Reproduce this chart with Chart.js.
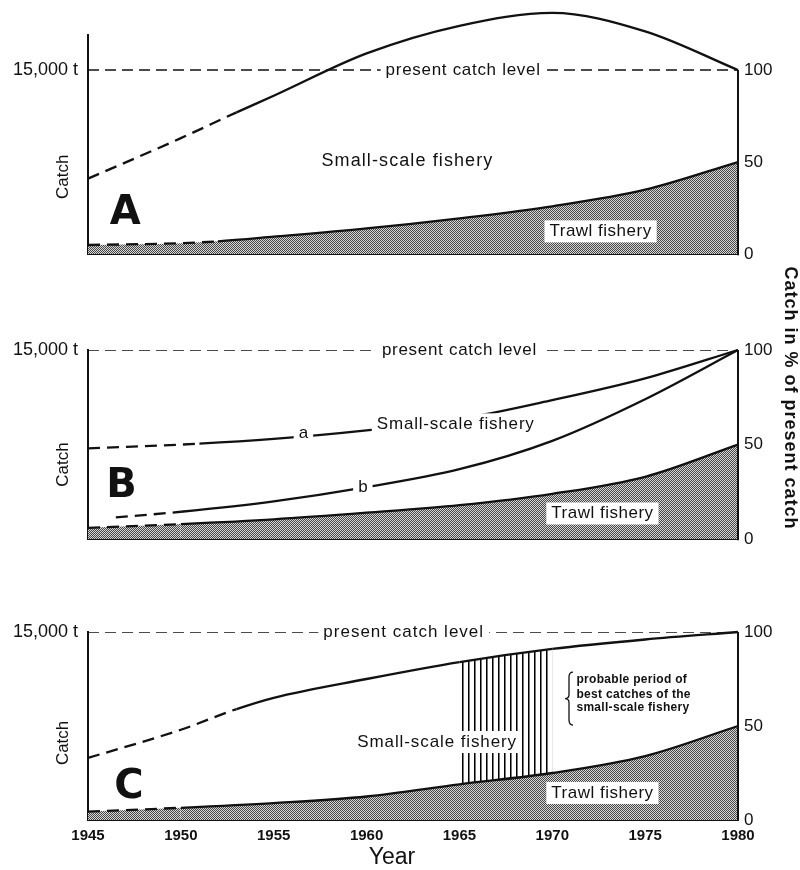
<!DOCTYPE html>
<html>
<head>
<meta charset="utf-8">
<script src="https://cdn.jsdelivr.net/npm/chart.js@4.4.1/dist/chart.umd.min.js"></script>
<style>
  body { margin: 0; background: #fff; }
  #wrap { position: relative; width: 800px; height: 870px; }
  canvas { position: absolute; left: 0; }
</style>
</head>
<body>
<div id="wrap">
  <canvas id="panelA" width="800" height="275" style="top:0"></canvas>
  <canvas id="panelB" width="800" height="305" style="top:255px"></canvas>
  <canvas id="panelC" width="800" height="310" style="top:560px"></canvas>
</div>
<script>
// all catches in % of present catch (100 % = 15,000 t)
const yearTicks = [1945, 1950, 1955, 1960, 1965, 1970, 1975, 1980];
const pctTicks = [0, 50, 100];
const presentYears = [1945, 1980];
const presentLevel = [100, 100];

// panel A
const aSmallYears = [1945, 1950, 1953, 1955, 1960, 1965, 1970, 1975, 1980];
const aSmallCatch = [41, 63, 77, 86, 109, 124, 131, 121, 100];
const aTrawlYears = [1945, 1950, 1952, 1955, 1960, 1965, 1970, 1975, 1980];
const aTrawlCatch = [5, 6, 7, 9.5, 14, 19.5, 26, 35, 50];

// panel B
const bLineAYears = [1945, 1951, 1955, 1960, 1965, 1970, 1975, 1980];
const bLineACatch = [48, 50.5, 53, 57.5, 63.5, 73.5, 85, 100];
const bLineBYears = [1946.5, 1950, 1955, 1960, 1965, 1970, 1975, 1980];
const bLineBCatch = [11.5, 14.5, 20, 27.5, 37, 52, 74, 100];
const bTrawlYears = [1945, 1950, 1955, 1960, 1965, 1970, 1975, 1980];
const bTrawlCatch = [6, 8, 10.5, 14, 18, 24, 33, 50];

// panel C
const cSmallYears = [1945, 1950, 1953, 1955, 1960, 1965, 1970, 1975, 1980];
const cSmallCatch = [33, 48, 59, 65, 75, 84, 91, 96, 100];
const cTrawlYears = [1945, 1950, 1955, 1960, 1965, 1970, 1975, 1980];
const cTrawlCatch = [4.5, 6.5, 9, 12.5, 19, 25, 34, 50];
const bestPeriod = [1965, 1970];

Chart.defaults.font.family = "'Liberation Sans', sans-serif";
Chart.defaults.color = "#111";

const INK = "#111";
const pts = (xs, ys) => xs.map((x, i) => ({ x, y: ys[i] }));

function makePattern(w, h, draw) {
  const c = document.createElement("canvas");
  c.width = w;
  c.height = h;
  const g = c.getContext("2d");
  draw(g);
  return g.createPattern(c, "repeat");
}

// halftone screen of the trawl area
const screen = makePattern(2, 2, (g) => {
  g.fillStyle = "#d6d6d6";
  g.fillRect(0, 0, 2, 2);
  g.fillStyle = "#474747";
  g.fillRect(0, 0, 1, 1);
  g.fillRect(1, 1, 1, 1);
});

// vertical hatching for the best period
const hatch = makePattern(6, 1, (g) => {
  g.fillStyle = "#000";
  g.fillRect(0, 0, 1, 1);
  g.fillStyle = "#777";
  g.fillRect(1, 0, 1, 1);
});

function curve(xs, ys, dashEnd, extra) {
  return Object.assign({
    data: pts(xs, ys),
    yAxisID: "y",
    borderColor: INK,
    borderWidth: 2.3,
    pointRadius: 0,
    cubicInterpolationMode: "monotone",
    fill: false,
    clip: false,
    segment: {
      borderDash: (c) => (c.p1.parsed.x <= dashEnd ? [12, 7] : undefined)
    }
  }, extra || {});
}

function presentLine() {
  return {
    data: pts(presentYears, presentLevel),
    yAxisID: "y",
    borderColor: INK,
    borderWidth: 1.5,
    borderDash: [11, 6],
    pointRadius: 0,
    fill: false
  };
}

function makeScales(max, showYears) {
  return {
    x: {
      type: "linear",
      min: 1945,
      max: 1980,
      grid: { display: false, drawTicks: false },
      border: { display: true, color: INK, width: 2 },
      afterBuildTicks: (s) => { s.ticks = yearTicks.map((v) => ({ value: v })); },
      ticks: {
        display: showYears,
        padding: 7,
        font: { size: 15, weight: "bold" },
        callback: (v) => String(v)
      },
      afterFit: (s) => { s.height = showYears ? 30 : 0; }
    },
    yL: {
      position: "left",
      min: 0,
      max: max,
      grid: { display: false, drawTicks: false },
      border: { display: true, color: INK, width: 2 },
      afterBuildTicks: (s) => { s.ticks = [{ value: 100 }]; },
      ticks: { padding: 10, font: { size: 18 }, callback: () => "15,000 t" },
      afterFit: (s) => { s.width = 88; }
    },
    y: {
      position: "right",
      min: 0,
      max: max,
      grid: { display: false, drawTicks: false },
      border: { display: false },
      afterBuildTicks: (s) => { s.ticks = pctTicks.map((v) => ({ value: v })); },
      ticks: { padding: 6, font: { size: 17 } },
      afterFit: (s) => { s.width = 62; }
    }
  };
}

function brace(ctx, bx, top, bottom) {
  const mid = (top + bottom) / 2;
  ctx.beginPath();
  ctx.moveTo(bx + 4, top);
  ctx.quadraticCurveTo(bx, top, bx, top + 5);
  ctx.lineTo(bx, mid - 4);
  ctx.quadraticCurveTo(bx, mid, bx - 4, mid);
  ctx.quadraticCurveTo(bx, mid, bx, mid + 4);
  ctx.lineTo(bx, bottom - 5);
  ctx.quadraticCurveTo(bx, bottom, bx + 4, bottom);
  ctx.lineWidth = 1.3;
  ctx.strokeStyle = INK;
  ctx.stroke();
}

// text labels placed in data units (or pixels where they sit outside the plot)
function notesPlugin(list, extra) {
  return {
    id: "notes",
    afterDatasetsDraw(chart) {
      const { ctx, scales: { x, y } } = chart;
      ctx.save();
      // the % axis only runs from 0 to 100
      const rx = x.getPixelForValue(1980);
      ctx.strokeStyle = INK;
      ctx.lineWidth = 2;
      ctx.beginPath();
      ctx.moveTo(rx, y.getPixelForValue(0) + 1);
      ctx.lineTo(rx, y.getPixelForValue(100));
      ctx.stroke();

      list.forEach((n) => {
        const px = n.px != null ? n.px : x.getPixelForValue(n.x);
        const py = n.py != null ? n.py : y.getPixelForValue(n.y);
        ctx.save();
        ctx.font = n.font || "17px 'Liberation Sans', sans-serif";
        ctx.letterSpacing = (n.spacing || 0) + "px";
        ctx.textAlign = n.align || "center";
        ctx.textBaseline = "middle";
        ctx.translate(px, py);
        if (n.rotate) ctx.rotate(n.rotate);
        if (n.box) {
          const w = ctx.measureText(n.text).width;
          const left = n.align === "left" ? 0 : -w / 2;
          ctx.fillStyle = "#fff";
          ctx.fillRect(left - 5, -11, w + 10, 22);
        }
        ctx.fillStyle = INK;
        ctx.fillText(n.text, 0, 0);
        ctx.restore();
      });
      if (extra) extra(chart);
      ctx.restore();
    }
  };
}

function build(id, max, showYears, padding, datasets, notes, extra) {
  return new Chart(document.getElementById(id), {
    type: "line",
    data: { datasets: datasets },
    options: {
      responsive: false,
      animation: false,
      events: [],
      layout: { padding: padding },
      plugins: { legend: { display: false }, tooltip: { enabled: false } },
      scales: makeScales(max, showYears)
    },
    plugins: [notesPlugin(notes, extra)]
  });
}

const bigLetter = "bold 40px 'DejaVu Sans', sans-serif";
const catchLabel = (yv) => ({ text: "Catch", px: 63, y: yv, rotate: -Math.PI / 2 });

build("panelA", 119, false, { top: 35, bottom: 18, left: 0, right: 0 }, [
  curve(aTrawlYears, aTrawlCatch, 1952, { fill: "origin", backgroundColor: screen }),
  curve(aSmallYears, aSmallCatch, 1953),
  presentLine()
], [
  { text: "A", x: 1947, y: 22, font: bigLetter },
  catchLabel(42),
  { text: "Small-scale fishery", x: 1962.2, y: 50.5, font: "18px 'Liberation Sans', sans-serif", spacing: 1.1 },
  { text: "Trawl fishery", x: 1972.6, y: 12.4, box: true, spacing: 0.5 },
  { text: "present catch level", x: 1965.2, y: 100, box: true, spacing: 0.7 }
]);

build("panelB", 100, false, { top: 95, bottom: 19, left: 0, right: 0 }, [
  curve(bTrawlYears, bTrawlCatch, 1950, { fill: "origin", backgroundColor: screen }),
  curve(bLineAYears, bLineACatch, 1951),
  curve(bLineBYears, bLineBCatch, 1950),
  presentLine()
], [
  { text: "B", x: 1946.8, y: 27.7, font: bigLetter },
  catchLabel(39.5),
  { text: "a", x: 1956.6, y: 56, box: true },
  { text: "b", x: 1959.8, y: 27.2, box: true },
  { text: "Small-scale fishery", x: 1964.8, y: 60.7, box: true, spacing: 0.8 },
  { text: "Trawl fishery", x: 1972.7, y: 13.6, box: true, spacing: 0.5 },
  { text: "present catch level", x: 1965, y: 100, box: true, spacing: 0.7 },
  { text: "Catch in % of present catch", px: 790, py: 143, rotate: Math.PI / 2,
    font: "bold 18px 'Liberation Sans', sans-serif", spacing: 1 }
]);

const smallBold = "bold 12px 'Liberation Sans Narrow', 'Liberation Sans', sans-serif";
build("panelC", 100, true, { top: 72, bottom: 20, left: 0, right: 0 }, [
  curve(cTrawlYears, cTrawlCatch, 1950, { fill: "origin", backgroundColor: screen }),
  curve(cSmallYears, cSmallCatch, 1953, {
    fill: "-1",
    backgroundColor: "rgba(0,0,0,0)",
    segment: {
      borderDash: (c) => (c.p1.parsed.x <= 1953 ? [12, 7] : undefined),
      backgroundColor: (c) =>
        c.p0.parsed.x >= bestPeriod[0] && c.p1.parsed.x <= bestPeriod[1] ? hatch : "rgba(0,0,0,0)"
    }
  }),
  presentLine()
], [
  { text: "C", x: 1947.2, y: 17, font: bigLetter },
  catchLabel(41),
  { text: "Small-scale fishery", x: 1963.8, y: 41.5, box: true, spacing: 0.9 },
  { text: "Trawl fishery", x: 1972.7, y: 14.4, box: true, spacing: 0.5 },
  { text: "present catch level", x: 1962, y: 100, box: true, spacing: 1 },
  { text: "probable period of", x: 1971.3, y: 74.5, align: "left", font: smallBold, spacing: 0.3 },
  { text: "best catches of the", x: 1971.3, y: 66.5, align: "left", font: smallBold, spacing: 0.3 },
  { text: "small-scale fishery", x: 1971.3, y: 59.6, align: "left", font: smallBold, spacing: 0.3 },
  { text: "Year", px: 392, py: 298, font: "23px 'Liberation Sans', sans-serif" }
], (chart) => {
  const { ctx, scales: { x, y } } = chart;
  brace(ctx, x.getPixelForValue(1970.9), y.getPixelForValue(78.7), y.getPixelForValue(50.5));
});
</script>
</body>
</html>
